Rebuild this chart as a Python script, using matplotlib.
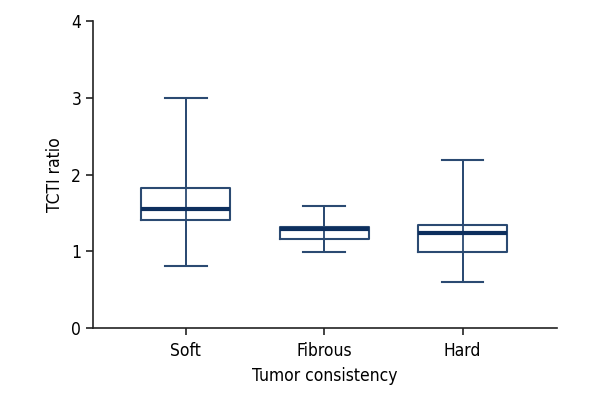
import matplotlib
matplotlib.use('Agg')
import matplotlib.pyplot as plt

# summary values
categories = ['Soft', 'Fibrous', 'Hard']
whislo = [0.81, 0.99, 0.60]
q1 = [1.41, 1.16, 0.99]
med = [1.55, 1.29, 1.24]
q3 = [1.82, 1.31, 1.34]
whishi = [3.00, 1.59, 2.19]

plt.rcParams['font.family'] = ['DejaVu Sans']
plt.rcParams['font.stretch'] = 'condensed'

stats = []
for i, name in enumerate(categories):
    stats.append({'label': name, 'whislo': whislo[i], 'q1': q1[i], 'med': med[i],
                  'q3': q3[i], 'whishi': whishi[i], 'fliers': []})

fig = plt.figure(figsize=(6, 4), dpi=100)
ax = fig.add_axes([0.155, 0.18, 0.773, 0.7675])

line_col = '#2b4a72'
pos = [0, 1, 2]
# whisker line runs through the box in the original
ax.vlines(pos, whislo, whishi, color=line_col, linewidth=1.3, zorder=1)
ax.bxp(stats, positions=pos, widths=0.64, showfliers=False,
       boxprops=dict(color=line_col, linewidth=1.5),
       whiskerprops=dict(color=line_col, linewidth=1.3),
       capprops=dict(color=line_col, linewidth=1.5),
       medianprops=dict(color='#0d2f5e', linewidth=3, solid_capstyle='butt'),
       capwidths=0.3)

ax.set_xlim(-0.67, 2.68)
ax.set_ylim(0, 4)
ax.set_yticks([0, 1, 2, 3, 4])
ax.set_xticks(pos)
ax.set_xticklabels(categories)

for s in ['top', 'right']:
    ax.spines[s].set_visible(False)
for s in ['left', 'bottom']:
    ax.spines[s].set_color('#222222')
    ax.spines[s].set_linewidth(1.2)

ax.tick_params(axis='both', labelsize=12.5, color='#222222', width=1.2, length=5)
ax.tick_params(axis='x', pad=5)
ax.set_xlabel('Tumor consistency', fontsize=12.5, labelpad=5)
ax.set_ylabel('TCTI ratio', fontsize=12.5, labelpad=5)

fig.savefig('out.png', dpi=100)
